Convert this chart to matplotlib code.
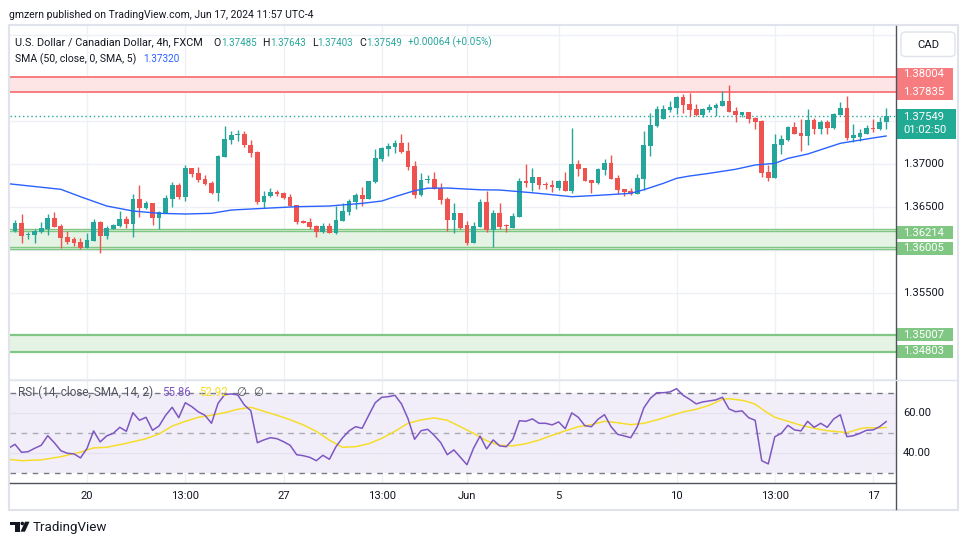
import numpy as np
import matplotlib
matplotlib.use("Agg")
import matplotlib.pyplot as plt
import matplotlib.transforms as mtransforms
from matplotlib.patches import Rectangle, FancyBboxPatch, Polygon, Ellipse

plt.rcParams['font.family'] = ['Roboto', 'DejaVu Sans']

# USD/CAD 4h candles (FXCM), bar 0 = May 16 05:00 ... bar 133 = Jun 17 09:00
opens = [1.36219, 1.36305, 1.36172, 1.36172, 1.36203, 1.36242, 1.36366, 1.36273, 1.36145, 1.36122,
         1.36084, 1.36021, 1.36102, 1.36316, 1.36160, 1.36238, 1.36277, 1.36355, 1.36297, 1.36587,
         1.36486, 1.36541, 1.36370, 1.36428, 1.36591, 1.36750, 1.36614, 1.36948, 1.36890, 1.36820,
         1.36773, 1.36660, 1.37079, 1.37277, 1.37328, 1.37347, 1.37215, 1.37137, 1.36556, 1.36622,
         1.36669, 1.36653, 1.36610, 1.36514, 1.36335, 1.36320, 1.36273, 1.36207, 1.36273, 1.36188,
         1.36335, 1.36436, 1.36552, 1.36634, 1.36587, 1.36785, 1.37049, 1.37169, 1.37192, 1.37242,
         1.37145, 1.36974, 1.36634, 1.36805, 1.36820, 1.36715, 1.36591, 1.36347, 1.36428, 1.36285,
         1.36079, 1.36265, 1.36552, 1.36230, 1.36424, 1.36277, 1.36253, 1.36381, 1.36797, 1.36777,
         1.36843, 1.36762, 1.36750, 1.36719, 1.36797, 1.36684, 1.36994, 1.36948, 1.36808, 1.36777,
         1.36928, 1.37006, 1.36831, 1.36703, 1.36680, 1.36649, 1.36823, 1.37207, 1.37440, 1.37517,
         1.37622, 1.37649, 1.37773, 1.37692, 1.37634, 1.37564, 1.37622, 1.37649, 1.37672, 1.37727,
         1.37610, 1.37568, 1.37599, 1.37533, 1.37498, 1.36901, 1.36831, 1.37215, 1.37273, 1.37424,
         1.37355, 1.37320, 1.37506, 1.37401, 1.37483, 1.37413, 1.37568, 1.37645, 1.37297, 1.37308,
         1.37343, 1.37413, 1.37401, 1.37485]
highs = [1.36343, 1.36413, 1.36207, 1.36235, 1.36320, 1.36413, 1.36436, 1.36297, 1.36212, 1.36149,
         1.36134, 1.36188, 1.36355, 1.36328, 1.36273, 1.36297, 1.36448, 1.36390, 1.36645, 1.36747,
         1.36560, 1.36541, 1.36444, 1.36634, 1.36788, 1.36773, 1.36983, 1.36948, 1.36959, 1.36866,
         1.36797, 1.37099, 1.37436, 1.37378, 1.37390, 1.37378, 1.37273, 1.37149, 1.36684, 1.36712,
         1.36692, 1.36669, 1.36645, 1.36514, 1.36343, 1.36366, 1.36281, 1.36305, 1.36305, 1.36509,
         1.36541, 1.36587, 1.36657, 1.36723, 1.36800, 1.37169, 1.37195, 1.37242, 1.37273, 1.37347,
         1.37250, 1.37029, 1.36893, 1.36866, 1.36901, 1.36770, 1.36610, 1.36541, 1.36428, 1.36335,
         1.36320, 1.36587, 1.36680, 1.36459, 1.36537, 1.36297, 1.36424, 1.36831, 1.36994, 1.36948,
         1.36843, 1.36785, 1.36808, 1.36808, 1.36901, 1.37413, 1.37041, 1.36948, 1.36808, 1.36948,
         1.37052, 1.37099, 1.36870, 1.36703, 1.36715, 1.36878, 1.37381, 1.37587, 1.37669, 1.37680,
         1.37727, 1.37785, 1.37808, 1.37824, 1.37692, 1.37645, 1.37692, 1.37703, 1.37843, 1.37913,
         1.37661, 1.37599, 1.37599, 1.37545, 1.37506, 1.36986, 1.37347, 1.37335, 1.37436, 1.37483,
         1.37517, 1.37634, 1.37529, 1.37506, 1.37506, 1.37587, 1.37715, 1.37785, 1.37459, 1.37405,
         1.37444, 1.37517, 1.37541, 1.37643]
lows = [1.36207, 1.36079, 1.36119, 1.36072, 1.36195, 1.36172, 1.36265, 1.36021, 1.36067, 1.36044,
        1.36009, 1.36021, 1.36102, 1.35963, 1.36126, 1.36235, 1.36262, 1.36253, 1.36149, 1.36381,
        1.36471, 1.36288, 1.36242, 1.36428, 1.36498, 1.36584, 1.36567, 1.36847, 1.36785, 1.36753,
        1.36649, 1.36567, 1.37079, 1.37230, 1.37265, 1.37195, 1.37079, 1.36529, 1.36479, 1.36614,
        1.36626, 1.36584, 1.36509, 1.36297, 1.36312, 1.36235, 1.36149, 1.36195, 1.36195, 1.36180,
        1.36335, 1.36401, 1.36471, 1.36506, 1.36587, 1.36777, 1.37033, 1.37091, 1.37126, 1.37119,
        1.36924, 1.36602, 1.36622, 1.36770, 1.36707, 1.36533, 1.36215, 1.36195, 1.36235, 1.36052,
        1.36079, 1.36265, 1.36207, 1.36033, 1.36242, 1.36207, 1.36253, 1.36381, 1.36730, 1.36684,
        1.36703, 1.36707, 1.36672, 1.36695, 1.36684, 1.36660, 1.36858, 1.36800, 1.36660, 1.36762,
        1.36870, 1.36823, 1.36649, 1.36626, 1.36637, 1.36649, 1.36695, 1.37091, 1.37428, 1.37517,
        1.37599, 1.37579, 1.37591, 1.37552, 1.37552, 1.37541, 1.37603, 1.37552, 1.37669, 1.37599,
        1.37483, 1.37545, 1.37467, 1.37401, 1.36843, 1.36800, 1.36831, 1.37114, 1.37266, 1.37343,
        1.37149, 1.37219, 1.37347, 1.37343, 1.37347, 1.37405, 1.37560, 1.37273, 1.37250, 1.37262,
        1.37343, 1.37366, 1.37390, 1.37403]
closes = [1.36305, 1.36160, 1.36180, 1.36215, 1.36250, 1.36366, 1.36265, 1.36137, 1.36087, 1.36079,
          1.36021, 1.36110, 1.36320, 1.36160, 1.36250, 1.36285, 1.36355, 1.36297, 1.36587, 1.36486,
          1.36537, 1.36370, 1.36436, 1.36599, 1.36750, 1.36614, 1.36948, 1.36881, 1.36808, 1.36765,
          1.36660, 1.37087, 1.37285, 1.37331, 1.37347, 1.37212, 1.37126, 1.36556, 1.36622, 1.36665,
          1.36645, 1.36602, 1.36509, 1.36323, 1.36312, 1.36262, 1.36207, 1.36273, 1.36195, 1.36343,
          1.36448, 1.36564, 1.36634, 1.36591, 1.36800, 1.37064, 1.37177, 1.37207, 1.37242, 1.37130,
          1.36963, 1.36634, 1.36808, 1.36823, 1.36707, 1.36579, 1.36343, 1.36428, 1.36253, 1.36079,
          1.36273, 1.36552, 1.36230, 1.36424, 1.36265, 1.36273, 1.36390, 1.36797, 1.36777, 1.36843,
          1.36753, 1.36753, 1.36723, 1.36797, 1.36684, 1.36994, 1.36940, 1.36800, 1.36777, 1.36936,
          1.37006, 1.36823, 1.36695, 1.36672, 1.36649, 1.36831, 1.37215, 1.37448, 1.37634, 1.37634,
          1.37657, 1.37773, 1.37680, 1.37622, 1.37564, 1.37634, 1.37657, 1.37680, 1.37727, 1.37599,
          1.37568, 1.37599, 1.37521, 1.37483, 1.36893, 1.36831, 1.37227, 1.37285, 1.37424, 1.37343,
          1.37320, 1.37506, 1.37401, 1.37483, 1.37413, 1.37576, 1.37645, 1.37297, 1.37331, 1.37355,
          1.37413, 1.37405, 1.37483, 1.37549]

# SMA(50) at a few bars
sma_bars = [-1, 7, 10, 14, 18, 22, 26, 30, 33, 38, 43, 48, 53, 56, 58, 61, 63, 66, 68, 71,
            74, 79, 81, 85, 89, 94, 96, 99, 101, 103, 106, 110, 113, 116, 118, 121, 126, 131, 133]
sma_vals = [1.36765, 1.36700, 1.36614, 1.36506, 1.36448, 1.36421, 1.36413, 1.36421, 1.36459, 1.36479,
            1.36498, 1.36506, 1.36537, 1.36564, 1.36614, 1.36684, 1.36713, 1.36715, 1.36707, 1.36695,
            1.36692, 1.36660, 1.36645, 1.36614, 1.36630, 1.36653, 1.36695, 1.36770, 1.36828, 1.36855,
            1.36886, 1.36933, 1.36983, 1.37002, 1.37060, 1.37110, 1.37235, 1.37297, 1.37320]

# RSI(14), bars -1 .. 133
rsi = [42.5, 44.5, 40.5, 40.8, 42.5, 44.0, 48.8, 45.3, 41.3, 40.0, 39.7,
       37.7, 42.5, 51.2, 45.7, 48.7, 50.0, 53.0, 51.0, 60.3, 56.5,
       58.0, 51.5, 53.7, 59.0, 63.0, 57.8, 65.3, 63.3, 60.7, 59.0,
       55.0, 65.0, 69.3, 69.7, 69.2, 64.2, 61.3, 45.3, 46.7, 47.8,
       47.3, 45.8, 44.0, 39.3, 38.8, 38.0, 36.3, 39.0, 37.0, 43.3,
       47.7, 51.2, 53.3, 52.5, 59.0, 65.3, 68.0, 68.3, 69.0, 64.7,
       57.3, 47.0, 51.3, 52.0, 49.0, 45.3, 39.3, 41.7, 38.0, 34.3,
       42.5, 48.6, 42.2, 46.7, 43.7, 43.3, 47.0, 56.3, 56.0, 57.2,
       55.0, 55.0, 54.2, 55.7, 52.3, 60.2, 58.0, 53.8, 53.3, 57.0,
       59.3, 53.3, 49.5, 48.7, 47.8, 53.3, 62.7, 67.5, 70.3, 70.3,
       70.7, 72.3, 69.0, 67.0, 64.7, 65.7, 66.2, 66.7, 68.0, 62.2,
       60.8, 61.2, 57.8, 56.5, 36.3, 34.7, 48.3, 50.0, 54.0, 51.7,
       51.2, 56.0, 53.0, 55.0, 53.0, 57.2, 59.3, 48.3, 48.8, 50.0,
       51.5, 51.7, 53.3, 55.86]
rsi_bars = np.arange(-1, 134)

# RSI-based MA(14), read at sample bars
rsi_ma_bars = [-1, 1, 4, 7, 10, 12, 14, 17, 20, 22, 24, 26, 28, 30, 32, 34, 36, 38, 40, 42,
               44, 46, 48, 50, 52, 54, 56, 58, 60, 62, 64, 66, 68, 70, 72, 74, 76, 78, 80, 82,
               84, 86, 88, 90, 92, 94, 96, 98, 100, 102, 104, 106, 108, 109, 111, 112, 113, 115, 116, 118,
               120, 122, 124, 126, 127, 129, 130, 132, 133]
rsi_ma = [37.0, 36.3, 36.7, 38.3, 40.6, 42.7, 43.0, 45.0, 47.3, 49.7, 53.6, 56.0, 58.0, 59.0, 60.3, 62.0, 63.0, 61.0, 59.0, 56.8,
          54.2, 51.0, 46.6, 43.0, 43.3, 44.8, 47.5, 51.0, 55.0, 56.7, 57.7, 56.5, 53.3, 50.0, 46.3, 44.0, 43.7, 44.8, 46.6, 49.0,
          51.2, 53.3, 54.3, 56.0, 55.3, 54.3, 55.0, 56.7, 58.7, 60.7, 62.0, 64.0, 67.0, 67.3, 66.5, 65.7, 64.5, 60.0, 58.0, 56.0,
          54.0, 52.5, 51.3, 50.7, 50.3, 52.3, 52.8, 52.7, 52.92]

time_labels = ['20', '13:00', '27', '13:00', 'Jun', '5', '10', '13:00', '17']
time_label_bars = [11, 26, 41, 56, 69, 83, 101, 116, 131]
price_ticks = [1.37, 1.365, 1.355]
rsi_ticks = [60, 40]

resist_zone = [1.37835, 1.38004]
support_hi = [1.36005, 1.36214]
support_hi_outer = [1.36029, 1.36235]
support_lo = [1.34803, 1.35007]
last_price = 1.37549
sma_last = 1.37320

TEAL = '#26a69a'
RED = '#ef5350'
GREEN = '#81c784'
PINK = '#f77c80'
GRID = '#eef0f6'
TXT = '#131722'
BLUE = '#2962ff'
YELLOW = '#f5dd2a'
PURPLE = '#7e57c2'

W, H = 970, 545
fig = plt.figure(figsize=(W / 100, H / 100), dpi=100)


def frac(l, t, r, b):
    return [l / W, 1 - b / H, (r - l) / W, (b - t) / H]


def fx(x):
    return x / W


def fy(y):
    return 1 - y / H


ax = fig.add_axes(frac(10, 26, 896, 380))
rx = fig.add_axes(frac(10, 380, 896, 483))
for a in (ax, rx):
    a.set_xlim(-0.763, 134.5)
    a.axis('off')
ax.set_ylim(1.34483, 1.38599)
rx.set_ylim(25.15, 76.65)

# grid
for b in time_label_bars:
    ax.axvline(b, color=GRID, lw=1, zorder=0)
    rx.axvline(b, color=GRID, lw=1, zorder=0.6)
for p in np.arange(1.345, 1.3851, 0.005):
    ax.axhline(p, color=GRID, lw=1, zorder=0)

# zones
ax.axhspan(resist_zone[0], resist_zone[1], color='#fde4e5', lw=0, zorder=0.5)
for p in resist_zone:
    ax.axhline(p, color=PINK, lw=1.4, zorder=0.7)
ax.axhspan(support_hi[0], support_hi_outer[1], color='#e5f3e4', lw=0, zorder=0.5)
for p in support_hi + support_hi_outer:
    ax.axhline(p, color=GREEN, lw=1.0, zorder=0.7)
ax.axhspan(support_lo[0], support_lo[1], color='#e5f3e4', lw=0, zorder=0.5)
for p in support_lo:
    ax.axhline(p, color=GREEN, lw=1.6, zorder=0.7)

# candles
o = np.array(opens)
h = np.array(highs)
l = np.array(lows)
c = np.array(closes)
x = np.arange(len(o))
cols = np.where(c >= o, TEAL, RED)
ax.vlines(x, l, h, colors=cols, lw=1, zorder=3)
ax.bar(x, np.maximum(np.abs(c - o), 0.00009), bottom=np.minimum(o, c), width=0.72,
       color=cols, lw=0, zorder=3)

ax.plot(sma_bars, sma_vals, color=BLUE, lw=1.0, zorder=4)
ax.axhline(last_price, color=TEAL, lw=1, ls=(0, (1, 2)), zorder=2)

# RSI pane
rx.axhspan(30, 70, color='#f2eef9', lw=0, zorder=0.5)
for v in rsi_ticks:
    rx.axhline(v, color='#e6e1f2', lw=1, zorder=0.6)
rx.axhline(70, color='#787b86', lw=1, ls=(0, (4, 4)), zorder=1)
rx.axhline(30, color='#787b86', lw=1, ls=(0, (4, 4)), zorder=1)
rx.axhline(50, color='#a9abb3', lw=1, ls=(0, (4, 4)), zorder=1)
rx.plot(rsi_ma_bars, rsi_ma, color=YELLOW, lw=1.1, zorder=3)
rx.plot(rsi_bars, rsi, color=PURPLE, lw=1.1, zorder=4)

# frame and scale lines
fig.patches.append(Rectangle((fx(9.5), fy(509.5)), (958.5 - 9.5) / W, (509.5 - 25) / H,
                             transform=fig.transFigure, fill=False, ec='#e0e3eb', lw=1.5))
fig.add_artist(plt.Line2D([fx(896), fx(896)], [fy(26), fy(509)], color='#50535e', lw=1))
fig.add_artist(plt.Line2D([fx(10), fx(896)], [fy(483), fy(483)], color='#50535e', lw=1))
fig.add_artist(plt.Line2D([fx(10), fx(958)], [fy(380), fy(380)], color='#e0e3eb', lw=1))

# right price scale
tr = mtransforms.blended_transform_factory(ax.transAxes, ax.transData)
rtr = mtransforms.blended_transform_factory(rx.transAxes, rx.transData)
XL = (903 - 10) / 886
XB0 = 1.0
XB1 = (953 - 10) / 886
ppx = (ax.get_ylim()[1] - ax.get_ylim()[0]) / 354.0  # price per pixel

for p in price_ticks:
    ax.text(XL, p, f'{p:.5f}', transform=tr, fontsize=8.1, color=TXT, va='center', clip_on=False)
for v in rsi_ticks:
    rx.text(XL, v, f'{v:.2f}', transform=rtr, fontsize=8.1, color=TXT, va='center', clip_on=False)


def box(y0, y1, color, x1=XB1):
    ax.add_patch(Rectangle((XB0, y0), x1 - XB0, y1 - y0, transform=tr, fc=color, ec='none',
                           clip_on=False, zorder=5))


box(resist_zone[0] - 8.5 * ppx, resist_zone[1] + 9.5 * ppx, PINK)
ax.text(XL, resist_zone[1] + 3 * ppx, f'{resist_zone[1]:.5f}', transform=tr, fontsize=8.1,
        color='white', va='center', clip_on=False, zorder=6)
ax.text(XL, resist_zone[0] - 0.5 * ppx, f'{resist_zone[0]:.5f}', transform=tr, fontsize=8.1,
        color='white', va='center', clip_on=False, zorder=6)

box(last_price - 23 * ppx, last_price + 7 * ppx, '#22ab94', x1=(956 - 10) / 886)
ax.text(XL, last_price - 1 * ppx, f'{last_price:.5f}', transform=tr, fontsize=8.1,
        color='white', va='center', clip_on=False, zorder=6)
ax.text(XL, last_price - 13.7 * ppx, '01:02:50', transform=tr, fontsize=8.1,
        color='white', va='center', clip_on=False, zorder=6)

for p, dy in [(support_hi[1], -1.7), (support_hi[0], 0.7), (support_lo[1], 0.3), (support_lo[0], 1.2)]:
    yc = p + dy * ppx
    box(yc - 6.5 * ppx, yc + 6.5 * ppx, GREEN)
    ax.text(XL, yc, f'{p:.5f}', transform=tr, fontsize=8.1, color='white', va='center',
            clip_on=False, zorder=6)

# time axis
for b, s in zip(time_label_bars, time_labels):
    rx.text(b, -0.125, s, transform=mtransforms.blended_transform_factory(rx.transData, rx.transAxes),
            fontsize=8.1, color=TXT, ha='center', va='center', clip_on=False)

# CAD button
fig.patches.append(FancyBboxPatch((fx(901), fy(56.5)), (955 - 901) / W, (56.5 - 32) / H,
                                  boxstyle='round,pad=0,rounding_size=0.006',
                                  transform=fig.transFigure, fc='white', ec='#e0e3eb', lw=1))
fig.text(fx(928), fy(44.5), 'CAD', fontsize=8.1, color=TXT, ha='center', va='center')

# legends
renderer = fig.canvas.get_renderer()


def run(x0, y0, parts):
    xx = x0
    for s, col, gap, size in parts:
        t = fig.text(fx(xx), fy(y0), s, color=col, fontsize=size, ha='left', va='center', zorder=7)
        xx += t.get_window_extent(renderer).width + gap


fig.text(fx(9), fy(15), 'gmzern published on TradingView.com, Jun 17, 2024 11:57 UTC-4',
         fontsize=7.5, color=TXT, va='center')
run(15, 42.5, [('U.S. Dollar / Canadian Dollar, 4h, FXCM', TXT, 11, 7.8),
               ('O', TXT, 0, 7.6), (f'{opens[-1]:.5f}', TEAL, 6, 7.0),
               ('H', TXT, 0, 7.6), (f'{highs[-1]:.5f}', TEAL, 6, 7.0),
               ('L', TXT, 0, 7.6), (f'{lows[-1]:.5f}', TEAL, 6, 7.0),
               ('C', TXT, 0, 7.6), (f'{closes[-1]:.5f}', TEAL, 6, 7.0),
               ('+0.00064 (+0.05%)', TEAL, 0, 7.2)])
run(15, 59.5, [('SMA (50, close, 0, SMA, 5)', TXT, 7, 7.6), (f'{sma_last:.5f}', BLUE, 0, 7.2)])
run(18, 392, [('RSI (14, close, SMA, 14, 2)', '#50535e', 9, 8.5), (f'{rsi[-1]:.2f}', PURPLE, 8, 8.3),
              (f'{rsi_ma[-1]:.2f}', YELLOW, 9, 8.3), ('\u2205', '#50535e', 7, 8.3),
              ('\u2205', '#50535e', 0, 8.3)])

# footer logo
fig.patches.append(Polygon([(fx(10), fy(521.7)), (fx(19.5), fy(521.7)), (fx(19.5), fy(531.7)),
                            (fx(15), fy(531.7)), (fx(15), fy(525.3)), (fx(10), fy(525.3))],
                           closed=True, transform=fig.transFigure, fc=TXT, ec='none'))
fig.patches.append(Ellipse((fx(22.3), fy(523.5)), 3.6 / W, 3.6 / H, transform=fig.transFigure,
                           fc=TXT, ec='none'))
fig.patches.append(Polygon([(fx(25), fy(521.7)), (fx(29.5), fy(521.7)), (fx(25), fy(531.7)),
                            (fx(20.5), fy(531.7))],
                           closed=True, transform=fig.transFigure, fc=TXT, ec='none'))
fig.text(fx(33), fy(527), 'TradingView', fontsize=9.6, color=TXT, va='center')

fig.savefig('out.png', dpi=100, facecolor='white')
